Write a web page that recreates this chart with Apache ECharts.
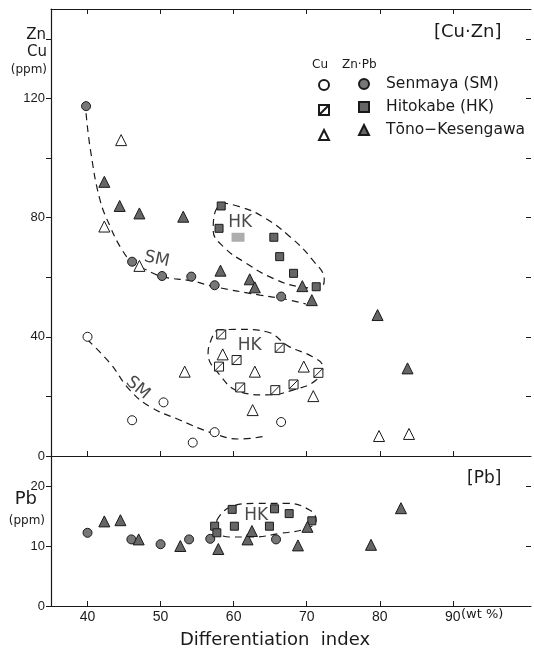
<!DOCTYPE html>
<html>
<head>
<meta charset="utf-8">
<script src="https://cdn.jsdelivr.net/npm/echarts@6/dist/echarts.min.js"></script>
<style>
html, body { margin: 0; padding: 0; background: #fff; }
#chart { width: 534px; height: 651px; }
</style>
</head>
<body>
<div id="chart"></div>
<script>
// [differentiation index (wt %), ppm]
var smCu = [[40, 40], [46.1, 12], [50.4, 18], [54.4, 4.5], [57.4, 8], [66.5, 11.4]];
var smZn = [[39.8, 117.4], [46.1, 65.2], [50.2, 60.4], [54.2, 60.2], [57.4, 57.3], [66.5, 53.5]];
var smPb = [[40, 12.2], [46, 11.1], [50, 10.3], [53.9, 11.1], [56.8, 11.2], [65.8, 11.1]];

var hkCu = [[58.3, 40.8], [58, 30], [60.4, 32.2], [60.9, 23], [66.3, 36.3], [65.7, 22.1], [68.2, 24], [71.6, 27.9]];
var hkZn = [[58.3, 83.9], [58, 76.4], [65.5, 73.4], [66.3, 66.9], [68.2, 61.3], [71.3, 56.8]];
var hkZnPatch = [[60.6, 73.4]];
var hkPb = [[57.4, 13.3], [57.7, 12.2], [59.8, 16.1], [60.1, 13.3], [64.9, 13.3], [65.6, 16.2], [67.6, 15.4], [70.7, 14.2]];

var tkCu = [[44.6, 106], [42.3, 77], [47.1, 63.8], [53.3, 28.3], [58.5, 34.1], [62.9, 28.3], [62.6, 15.4], [69.6, 30], [70.9, 20.1], [79.9, 6.7], [84, 7.4]];
var tkZn = [[42.3, 92], [44.4, 83.9], [47.1, 81.4], [53.1, 80.3], [58.2, 62.2], [62.2, 59.3], [62.9, 56.6], [69.4, 57], [70.7, 52.3], [79.7, 47.3], [83.8, 29.4]];
var tkPb = [[42.3, 14.1], [44.5, 14.3], [47, 11.1], [52.7, 10], [57.9, 9.5], [61.9, 11.1], [62.5, 12.5], [68.8, 10.1], [70.1, 13.2], [78.8, 10.2], [82.9, 16.3]];

// hand drawn trend lines / fields
var smZnCurve = [[39.8, 115], [40.4, 102.7], [41.7, 86], [43.1, 77], [44.6, 69.7], [46.1, 65], [47.6, 63], [50.2, 60.2], [54.2, 58.8], [57.4, 56.8], [63.6, 54], [66.5, 52.9], [69.9, 51]];
var smCuCurve = [[40, 39], [43.1, 31.1], [45.8, 22.1], [48.6, 16.5], [52.6, 12.1], [57.2, 7.6], [60.8, 5.7], [64, 6.5]];
var hkZnLoop = [[58.3, 85], [60.8, 83.7], [64, 80.3], [67.7, 73.6], [70.8, 65.8], [72.4, 59.1], [71.7, 56.3], [69, 56.8], [65.4, 59.6], [61.7, 64.7], [58.6, 70.2], [57.2, 75.8], [57.4, 81.4], [58.3, 85]];
var hkCuLoop = [[57.7, 42.3], [60.8, 42.5], [64.5, 41.7], [67.6, 36.7], [70.8, 33.3], [72.2, 30], [71.3, 25.5], [68.1, 22.1], [64.5, 20.5], [60.8, 21.6], [58.1, 27.2], [56.5, 34.5], [57, 39.5], [57.7, 42.3]];
var hkPbLoop = [[57.7, 14.3], [59.5, 16.5], [63.1, 17.1], [67.2, 17.1], [70.4, 16], [71.3, 14.3], [69.9, 12.9], [66.3, 12.1], [62.6, 11.5], [59.5, 11.5], [57.7, 12.6], [57.7, 14.3]];

var xTicks = [40, 50, 60, 70, 80, 90];
var topLabels = [0, 40, 80, 120];
var topTicks = [0, 20, 40, 60, 80, 100, 120, 140];
var pbLabels = [0, 10, 20];

var NUM = 'Liberation Sans';
var FONT = 'DejaVu Sans';
var INK = '#1a1a1a';
var slashBox = 'path://M0,0H10V10H0Z M0,10L10,0';

var chart = echarts.init(document.getElementById('chart'));

function xAx(grid, pos, labels) {
    return {
        type: 'value', gridIndex: grid, position: pos, min: 35, max: 100.7,
        axisLine: {show: true, onZero: false, lineStyle: {color: INK, width: 1.2}},
        axisTick: {inside: true, length: 5, customValues: xTicks, lineStyle: {color: INK}},
        axisLabel: labels ? {customValues: xTicks, fontFamily: NUM, fontSize: 14, color: INK, margin: 4} : {show: false},
        splitLine: {show: false}
    };
}

function yAx(grid, pos, max, ticks, labels) {
    return {
        type: 'value', gridIndex: grid, position: pos, min: 0, max: max,
        axisLine: {show: pos === 'left', onZero: false, lineStyle: {color: INK, width: 1.2}},
        axisTick: {show: true, inside: pos === 'right', length: 5, customValues: ticks, lineStyle: {color: INK}},
        axisLabel: labels ? {customValues: labels, fontFamily: NUM, fontSize: 13, color: INK, margin: 6} : {show: false},
        splitLine: {show: false}
    };
}

function dots(name, data, xi, yi, symbol, size, fill) {
    return {
        name: name, type: 'scatter', xAxisIndex: xi, yAxisIndex: yi, data: data,
        symbol: symbol, symbolSize: size, z: 5,
        itemStyle: {color: fill, borderColor: INK, borderWidth: 1, opacity: 1}
    };
}

function dashed(data, xi, yi) {
    return {
        type: 'line', xAxisIndex: xi, yAxisIndex: yi, data: data, smooth: 0.45,
        showSymbol: false, silent: true, z: 2,
        lineStyle: {color: INK, width: 1.2, type: [7, 5]}
    };
}

function note(text, x, y, xi, yi, rot) {
    return {
        type: 'scatter', xAxisIndex: xi, yAxisIndex: yi, symbolSize: 0, silent: true, z: 6,
        data: [[x, y]],
        label: {show: true, position: 'inside', formatter: text, rotate: rot || 0,
            fontFamily: FONT, fontSize: 17, color: INK}
    };
}

function txt(pos, s, font) {
    pos.type = 'text';
    pos.style = {text: s, font: font, fill: INK};
    return pos;
}

var FILL = '#777';

var option = {
    animation: false,
    backgroundColor: '#fff',
    grid: [
        {left: 51, right: 3, top: 9, height: 447},
        {left: 51, right: 3, top: 456, height: 150}
    ],
    xAxis: [xAx(0, 'bottom', false), xAx(0, 'top', false), xAx(1, 'bottom', true)],
    yAxis: [
        yAx(0, 'left', 150, topTicks, topLabels),
        yAx(0, 'right', 150, topTicks.slice(1), null),
        yAx(1, 'left', 25, pbLabels, pbLabels),
        yAx(1, 'right', 25, [10, 20], null)
    ],
    legend: [
        {
            data: ['Cu SM', 'Cu HK', 'Cu TK'], orient: 'vertical', left: 318, top: 79, padding: 0,
            itemWidth: 10, itemHeight: 10, itemGap: 13, formatter: function () { return ''; },
            selectedMode: false
        },
        {
            data: ['Senmaya (SM)', 'Hitokabe (HK)', 'Tōno−Kesengawa'], orient: 'vertical', left: 358, top: 75, padding: 0,
            itemWidth: 10, itemHeight: 10, itemGap: 5, selectedMode: false,
            textStyle: {fontFamily: FONT, fontSize: 15.5, color: INK, lineHeight: 18, padding: [0, 0, 0, 12]}
        }
    ],
    graphic: [
        txt({right: 534 - 46, top: 28}, 'Zn', '15px "DejaVu Sans"'),
        txt({right: 534 - 47, top: 45}, 'Cu', '15px "DejaVu Sans"'),
        txt({right: 534 - 47, top: 64}, '(ppm)', '12px "DejaVu Sans"'),
        txt({left: 434, top: 23}, '[Cu·Zn]', '18px "DejaVu Sans"'),
        txt({left: 312, top: 59}, 'Cu', '12px "DejaVu Sans"'),
        txt({left: 342, top: 59}, 'Zn·Pb', '12px "DejaVu Sans"'),
        txt({right: 534 - 37, top: 490}, 'Pb', '18px "DejaVu Sans"'),
        txt({right: 534 - 45, top: 515}, '(ppm)', '12px "DejaVu Sans"'),
        txt({left: 467, top: 470}, '[Pb]', '17px "DejaVu Sans"'),
        txt({left: 461, top: 608}, '(wt %)', '13px "DejaVu Sans"'),
        txt({left: 180, top: 631}, 'Differentiation  index', '18px "DejaVu Sans"')
    ],
    series: [
        dashed(smZnCurve, 0, 0),
        dashed(smCuCurve, 0, 0),
        dashed(hkZnLoop, 0, 0),
        dashed(hkCuLoop, 0, 0),
        dashed(hkPbLoop, 2, 2),

        dots('Cu SM', smCu, 0, 0, 'circle', 9, '#fff'),
        dots('Cu HK', hkCu, 0, 0, slashBox, 9, '#fff'),
        dots('Cu TK', tkCu, 0, 0, 'triangle', 11, '#fff'),
        dots('Senmaya (SM)', smZn, 0, 0, 'circle', 9, FILL),
        dots('Hitokabe (HK)', hkZn, 0, 0, 'rect', 8, '#666'),
        dots('Tōno−Kesengawa', tkZn, 0, 0, 'triangle', 11, '#666'),
        {
            type: 'scatter', xAxisIndex: 0, yAxisIndex: 0, data: hkZnPatch, symbol: 'rect',
            symbolSize: [13, 9], z: 4, itemStyle: {color: '#999'}
        },
        dots('Senmaya (SM)', smPb, 2, 2, 'circle', 9, FILL),
        dots('Hitokabe (HK)', hkPb, 2, 2, 'rect', 8, '#666'),
        dots('Tōno−Kesengawa', tkPb, 2, 2, 'triangle', 11, '#666'),

        note('SM', 49.5, 66, 0, 0, -12),
        note('SM', 46.9, 22.8, 0, 0, -40),
        note('HK', 60.9, 78.3, 0, 0),
        note('HK', 62.2, 36.9, 0, 0),
        note('HK', 63.1, 15, 2, 2)
    ]
};

chart.setOption(option);
</script>
</body>
</html>
